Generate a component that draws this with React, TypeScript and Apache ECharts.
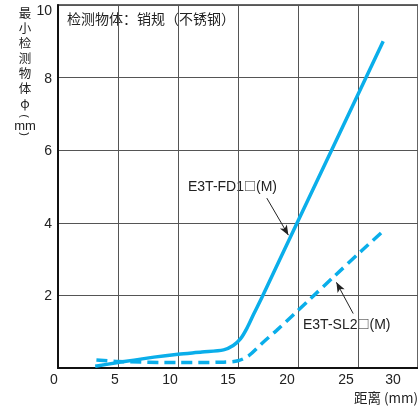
import React, { useEffect, useRef } from "react";
import * as echarts from "echarts";

// distance (mm) vs minimum detectable object (mm)
const fd1Points: [number, number][] = [
  [3.1, 0.05], [5, 0.15], [8, 0.3], [10, 0.38], [12, 0.44], [13.8, 0.5],
  [14.6, 0.62], [15.2, 0.8], [15.75, 1.1], [16.3, 1.48], [17, 1.95],
  [20, 4.05], [27.1, 9.0],
];
const sl2Points: [number, number][] = [
  [3.2, 0.22], [5, 0.18], [10, 0.15], [13.8, 0.16], [15, 0.2], [15.9, 0.34],
  [17.1, 0.71], [18.2, 1.03], [19.6, 1.46], [21.1, 1.93], [23.1, 2.55],
  [25.3, 3.23], [27.1, 3.77],
];
const seriesNames = ["E3T-FD1□(M)", "E3T-SL2□(M)"];
const xTicks = [0, 5, 10, 15, 20, 25, 30];
const yTicks = [0, 2, 4, 6, 8, 10];
const arrowFD1: [number, number][] = [[17.4, 4.68], [19.2, 3.66]];
const arrowSL2: [number, number][] = [[24.6, 1.5], [23.2, 2.36]];
const titleText = "检测物体：销规（不锈钢）";
const yNameChars = ["最", "小", "检", "测", "物", "体", "φ"];
const yNameUnit = ["(", "mm", ")"];
const xName = "距离 (mm)";

const BLUE = "#0aaeea";
const FONT = "Liberation Sans, Arial, sans-serif";
const CJK = "Noto Sans CJK SC, sans-serif";

export default function App() {
  const ref = useRef<HTMLDivElement>(null);
  useEffect(() => {
    if (!ref.current) return;
    const chart = echarts.init(ref.current, null, { renderer: "svg" });
    const xShift: Record<number, number> = { 0: 4, 5: 3, 10: 8, 15: 10, 20: 11, 25: 12, 30: 25 };
    const xRich: Record<string, any> = {};
    xTicks.forEach((t) => {
      xRich["s" + t] = { padding: [0, 2 * (xShift[t] || 0), 0, 0], fontSize: 14, fontFamily: FONT, color: "#222" };
    });
    const boxRich = {
      b: { fontFamily: CJK, fontSize: 12, fill: "#222", padding: [0, 0, 1, 0] },
    };
    const label = (s: string) => s.replace("□", "{b|□}");
    const yNameGraphics = yNameChars.map((c, i) => ({
      type: "text", x: 25, y: 12 + i * 15,
      style: { text: c, fontSize: 12.5, fontFamily: CJK, fill: "#222", align: "center", verticalAlign: "middle" },
    }));
    chart.setOption({
      animation: false,
      grid: {
        left: 58, top: 5, width: 362, height: 363,
        show: true, borderColor: "#333", borderWidth: 1.5, backgroundColor: "transparent",
      },
      xAxis: {
        type: "value", min: xTicks[0], max: xTicks[xTicks.length - 1], interval: 5,
        axisLine: { show: true, lineStyle: { color: "#111", width: 2 } },
        axisTick: { show: false },
        splitLine: { show: true, lineStyle: { color: "#555", width: 1 } },
        axisLabel: {
          margin: 4,
          formatter: (v: number) => `{s${v}|${v}}`,
          rich: xRich,
        },
      },
      yAxis: {
        type: "value", min: yTicks[0], max: yTicks[yTicks.length - 1], interval: 2,
        axisLine: { show: true, lineStyle: { color: "#111", width: 2 } },
        axisTick: { show: false },
        splitLine: { show: true, lineStyle: { color: "#555", width: 1 } },
        axisLabel: {
          margin: 6, showMinLabel: false,
          formatter: (v: number) => (v === 10 ? `{t|${v}}` : `{n|${v}}`),
          rich: {
            n: { fontSize: 14, fontFamily: FONT, color: "#222" },
            t: { fontSize: 14, fontFamily: FONT, color: "#222", padding: [9, 0, 0, 0] },
          },
        },
      },
      series: [
        {
          name: seriesNames[0], type: "line", data: fd1Points, smooth: 0.3,
          showSymbol: false, symbol: "none",
          lineStyle: { color: BLUE, width: 3.5 },
          markLine: {
            silent: true, symbol: ["none", "arrow"], symbolSize: [6, 10],
            lineStyle: { color: "#222", width: 1, type: "solid" },
            label: { show: false },
            data: [
              [{ coord: arrowFD1[0] }, { coord: arrowFD1[1] }],
              [{ coord: arrowSL2[0] }, { coord: arrowSL2[1] }],
            ],
          },
        },
        {
          name: seriesNames[1], type: "line", data: sl2Points, smooth: 0.3,
          showSymbol: false, symbol: "none",
          lineStyle: { color: BLUE, width: 3.5, type: [11, 6] },
        },
      ],
      graphic: [
        { type: "text", left: 67, top: 11, style: { text: titleText, fontSize: 14, fontFamily: CJK, fill: "#222" } },
        ...yNameGraphics,
        { type: "text", x: 25, y: 116, rotation: -Math.PI / 2, style: { text: yNameUnit[0], fontSize: 11, fontFamily: FONT, fill: "#222", align: "center", verticalAlign: "middle" } },
        { type: "text", x: 25, y: 125, style: { text: yNameUnit[1], fontSize: 13, fontFamily: FONT, fill: "#222", align: "center", verticalAlign: "middle" } },
        { type: "text", x: 25, y: 134, rotation: -Math.PI / 2, style: { text: yNameUnit[2], fontSize: 11, fontFamily: FONT, fill: "#222", align: "center", verticalAlign: "middle" } },
        { type: "text", left: 354, top: 390, style: { text: xName, fontSize: 13.5, fontFamily: CJK, fill: "#222" } },
        { type: "text", left: 188, top: 179, style: { text: label(seriesNames[0]), fontSize: 14, fontFamily: FONT, fill: "#222", rich: boxRich } },
        { type: "text", left: 303, top: 317, style: { text: label(seriesNames[1]), fontSize: 14, fontFamily: FONT, fill: "#222", rich: boxRich } },
      ],
    });
    return () => chart.dispose();
  }, []);
  return <div ref={ref} style={{ position: "fixed", left: 0, top: 0, width: 418, height: 408 }} />;
}
